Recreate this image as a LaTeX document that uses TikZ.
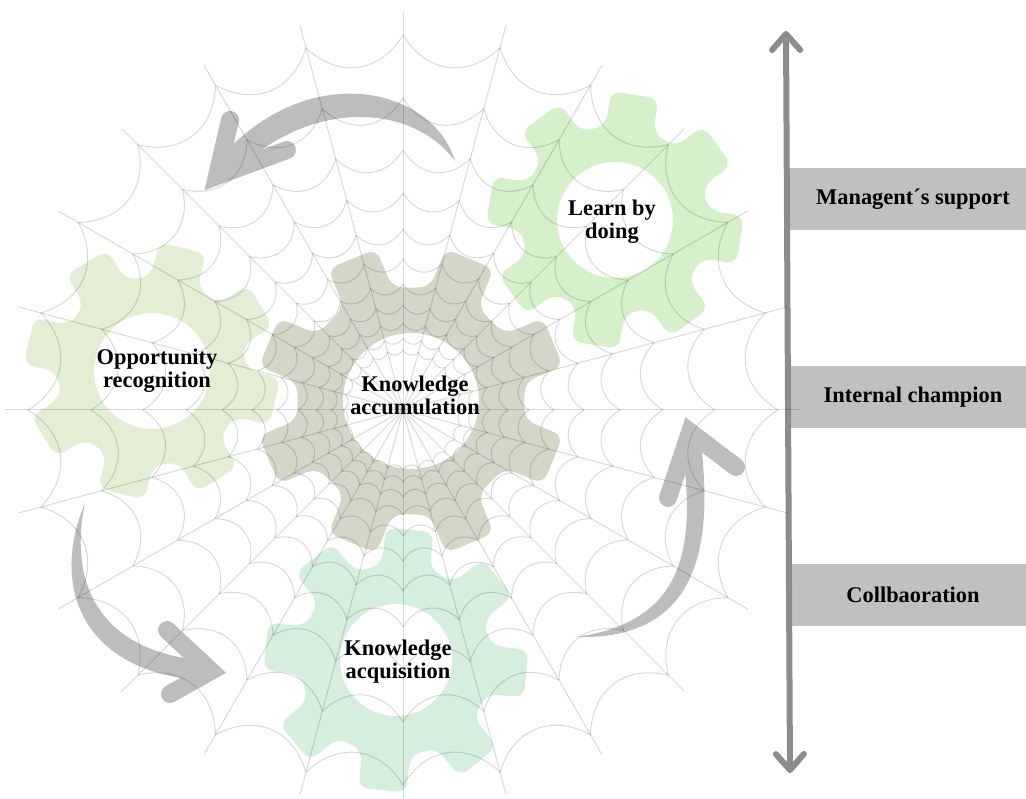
\documentclass[tikz,border=0pt]{standalone}
\usepackage{fontspec}
\setmainfont{Liberation Serif}
\usetikzlibrary{arrows.meta}

\definecolor{accfill}{RGB}{212,214,200}
\definecolor{oppfill}{RGB}{227,238,212}
\definecolor{learnfill}{RGB}{213,240,202}
\definecolor{acqfill}{RGB}{213,238,221}
\definecolor{arrowgray}{RGB}{189,189,189}
\definecolor{boxgray}{RGB}{192,192,192}
\definecolor{axisgray}{RGB}{140,140,140}

% #1 centre, #2 teeth, #3 root radius, #4 tip radius, #5 half tooth width,
% #6 angle of first tooth, #7 hole radius, #8 fill colour
\newcommand{\cogwheel}[8]{%
  \pgfmathsetmacro{\gstep}{360/#2}
  \pgfmathsetmacro{\groot}{asin(#5/#3)}
  \pgfmathsetmacro{\gtip}{asin(#5/#4)}
  \pgfmathtruncatemacro{\glast}{#2-1}
  \fill[#8, shift={(#1)}, even odd rule] [rounded corners=10pt]
    ({#6-\gstep/2}:{#3-3})
    \foreach \k in {0,...,\glast} {
      -- ({#6+\k*\gstep-\groot}:#3) -- ({#6+\k*\gstep-\gtip}:#4)
      -- ({#6+\k*\gstep+\gtip}:#4) -- ({#6+\k*\gstep+\groot}:#3)
      -- ({#6+(\k+0.5)*\gstep}:{#3-3})
    }
    [sharp corners] (0,0) circle (#7);
}

\begin{document}
\begin{tikzpicture}[x=1pt, y=-1pt,
    web/.style={draw=black, draw opacity=0.15, line width=1pt},
    turn/.style={fill=arrowgray},
    turnhead/.style={draw=arrowgray, line width=18pt, line cap=round, line join=miter},
    factor/.style={fill=boxgray, minimum width=246pt, minimum height=62pt,
      inner sep=0pt, font=\fontsize{22.4}{24}\selectfont\bfseries},
    gearlabel/.style={align=center, inner sep=0pt,
      font=\fontsize{22.4}{23}\selectfont\bfseries}]

    \useasboundingbox (0,0) rectangle (1026,799);

    % the four gears, accumulation on top
    \cogwheel{152,371}{8}{96}{129}{24}{14}{58}{oppfill}
    \cogwheel{615,220}{8}{96}{129}{24}{9}{58}{learnfill}
    \cogwheel{396,660}{8}{98}{133}{24}{6}{56}{acqfill}
    \cogwheel{411,401}{8}{116}{156}{26}{22.5}{68}{accfill}

    % curved arrows round the cycle
    \fill[turn] (455,161) .. controls (432,85) and (300,55) .. (210,170)
        -- (225,183) .. controls (300,98) and (410,100) .. (455,161) -- cycle;
    \draw[turnhead] (230,120) -- (217,176) -- (287,150);

    \fill[turn] (85,503) .. controls (50,585) and (80,675) .. (210,681)
        -- (212,661) .. controls (100,655) and (68,585) .. (85,503) -- cycle;
    \draw[turnhead] (167,630) -- (211,671) -- (170,694);

    \fill[turn] (576,637) .. controls (690,640) and (718,560) .. (699,429)
        -- (680,435) .. controls (700,555) and (680,622) .. (576,637) -- cycle;
    \draw[turnhead] (668,498) -- (690,432) -- (736,467);

    % factors along the axis
    \node[factor] (mgmt) at (913,199) {Managent´s support};
    \node[factor] (champ) at (913,397) {Internal champion};
    \node[factor] (collab) at (913,595) {Collbaoration};

    \coordinate (axtop) at (786,31);
    \coordinate (axbot) at (790,773);
    \draw[axisgray, line width=6pt,
        {Straight Barb[round, length=16pt, width=28pt]}-{Straight Barb[round, length=16pt, width=28pt]}]
        (axtop) -- (axbot);

    % spider web
    \begin{scope}[shift={(403,410)}]
        \foreach \a in {0,15,...,345}
            \draw[web] (0,0) -- (\a:398);
        \foreach \r in {375,312,260,217,181,151,126,105,87,72,60}
            \foreach \a in {0,15,...,345}
                \draw[web] (\a:\r) .. controls ({\a+4}:{0.9*\r}) and ({\a+11}:{0.9*\r}) .. ({\a+15}:\r);
    \end{scope}

    \node[gearlabel] (opp) at (157,371) {Opportunity\\recognition};
    \node[gearlabel] (learn) at (612,222) {Learn by\\doing};
    \node[gearlabel] (acc) at (415,395) {Knowledge\\accumulation};
    \node[gearlabel] (acq) at (398,662) {Knowledge\\acquisition};

\end{tikzpicture}
\end{document}
